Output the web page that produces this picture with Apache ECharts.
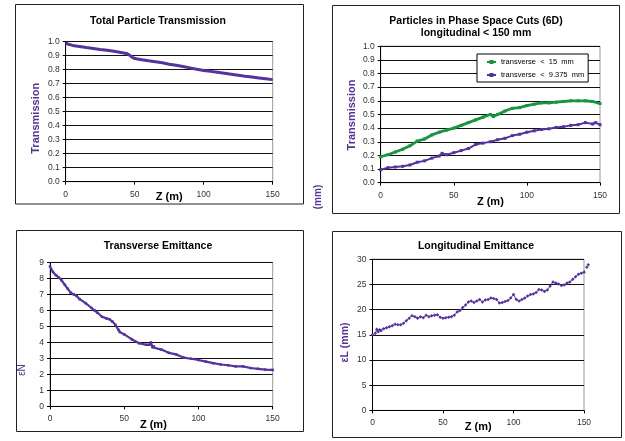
<!DOCTYPE html>
<html><head><meta charset="utf-8">
<script src="https://cdn.jsdelivr.net/npm/echarts@6/dist/echarts.min.js"></script>
<style>html,body{margin:0;padding:0;background:#fff}#c{width:625px;height:441px}</style>
</head><body><div id="c"></div>
<script>
// ---- data ----
const titles = ['Total Particle Transmission', 'Particles in Phase Space Cuts (6D)\nlongitudinal < 150 mm', 'Transverse Emittance', 'Longitudinal Emittance'];
const legendNames = ['transverse < 15 mm', 'transverse < 9.375 mm'];
const xTicks = [0, 50, 100, 150];

const zTotal = [0,2,5,10,15,20,25,30,35,40,44,46,48,50,55,60,65,70,75,80,85,90,95,100,105,110,115,120,125,130,135,140,145,150];
const transTotal = [0.99,0.98,0.972,0.965,0.957,0.95,0.943,0.937,0.93,0.922,0.915,0.905,0.888,0.878,0.87,0.862,0.855,0.848,0.838,0.83,0.822,0.812,0.802,0.793,0.787,0.78,0.773,0.766,0.759,0.752,0.746,0.74,0.734,0.728];

const zCut15 = [0,5,10,15,20,25,30,35,40,45,50,55,60,65,70,75,77,80,85,90,95,100,105,110,115,120,125,130,135,140,145,150];
const cut15 = [0.19,0.205,0.225,0.245,0.27,0.305,0.32,0.35,0.37,0.385,0.40,0.42,0.44,0.46,0.48,0.50,0.485,0.50,0.525,0.545,0.55,0.565,0.575,0.585,0.585,0.59,0.595,0.60,0.60,0.60,0.595,0.58];

const zCut9 = [0,5,10,15,20,25,30,35,40,42,45,50,55,60,65,70,75,80,85,90,95,100,105,110,115,120,125,130,135,140,145,147,150];
const cut9 = [0.095,0.11,0.115,0.12,0.13,0.15,0.16,0.18,0.195,0.215,0.205,0.22,0.235,0.25,0.28,0.29,0.30,0.315,0.325,0.345,0.355,0.37,0.38,0.39,0.395,0.405,0.41,0.42,0.425,0.44,0.43,0.44,0.425];

const zEmitT = [0,2,4,6,8,10,12,14,16,18,20,24,28,30,32,35,38,40,42,44,46,47,50,55,60,65,67,68,69,70,75,80,85,90,95,100,105,110,115,120,125,130,135,140,145,150];
const emitT = [8.75,8.4,8.2,8.05,7.85,7.6,7.35,7.1,7.0,6.9,6.7,6.45,6.15,6.0,5.85,5.6,5.5,5.45,5.3,5.1,4.8,4.65,4.5,4.2,3.95,3.85,3.85,4.0,3.7,3.75,3.55,3.35,3.25,3.05,2.98,2.9,2.8,2.7,2.62,2.57,2.5,2.5,2.4,2.35,2.3,2.28];

const zEmitL = [0,2,3,4,5,6,8,10,12,14,16,18,20,22,24,26,28,30,32,34,36,38,40,42,44,46,48,50,52,54,56,58,60,62,64,66,68,70,72,74,76,78,80,82,84,86,88,90,92,94,96,98,100,102,104,106,108,110,112,114,116,118,120,122,124,126,128,130,132,134,136,138,140,142,144,146,148,150,152,153];
const emitL = [15.0,15.3,16.1,15.6,16.0,15.8,16.2,16.4,16.6,16.8,17.1,17.0,17.0,17.3,17.8,18.3,18.8,18.6,18.3,18.6,18.4,18.9,18.6,18.8,18.9,19.0,18.5,18.3,18.4,18.5,18.6,18.9,19.5,19.8,20.4,20.9,21.5,21.7,21.4,21.7,22.0,21.5,21.9,22.0,22.3,22.2,22.0,21.3,21.4,21.6,21.8,22.3,23.0,22.0,21.7,22.0,22.3,22.7,23.0,23.1,23.4,24.0,23.9,23.6,23.9,24.7,25.5,25.3,25.1,24.8,24.9,25.3,25.5,26.0,26.5,27.0,27.2,27.4,28.4,28.9];

// ---- styles ----
const PURPLE = '#55339e';
const GREEN = '#17963f';
const FONT = 'Liberation Sans, Arial, sans-serif';
const pair = (xs, ys) => xs.map((x, i) => [x, ys[i]]);

const grids = [
  {left: 65.7, top: 41.5, width: 207, height: 140.2},
  {left: 380.7, top: 46.2, width: 219.3, height: 136.5},
  {left: 50, top: 262.4, width: 222.7, height: 144},
  {left: 372.5, top: 259.2, width: 211.5, height: 151.2}
];
const yCfg = [
  {max: 1, interval: 0.1, fmt: v => v.toFixed(1)},
  {max: 1, interval: 0.1, fmt: v => v.toFixed(1)},
  {max: 9, interval: 1, fmt: v => String(v)},
  {max: 30, interval: 5, fmt: v => String(v)}
];
const xNamePad = [[0,0,0,0],[0,0,0,0],[0,16,0,0],[0,0,0,0]];
const xNameGap = [10, 14, 13, 11];

const option = {
  animation: false,
  textStyle: {fontFamily: FONT},
  grid: grids.map(g => Object.assign({show: true, borderColor: '#999', borderWidth: 1, containLabel: false}, g)),
  xAxis: grids.map((g, i) => ({
    type: 'value', gridIndex: i, min: 0, max: 150, interval: 50,
    name: 'Z (m)', nameLocation: 'middle', nameGap: xNameGap[i], nameMoveOverlap: false,
    nameTextStyle: {fontSize: 11, fontWeight: 'bold', color: '#000', fontFamily: FONT, padding: xNamePad[i]},
    axisLine: {show: true, onZero: false, lineStyle: {color: '#000', width: 1}},
    axisTick: {show: true, length: 3, lineStyle: {color: '#000'}},
    axisLabel: {fontSize: 8.5, color: '#333', margin: 8, fontFamily: FONT},
    splitLine: {show: false}
  })),
  yAxis: yCfg.map((c, i) => ({
    type: 'value', gridIndex: i, min: 0, max: c.max, interval: c.interval,
    axisLine: {show: true, lineStyle: {color: '#000', width: 1}},
    axisTick: {show: true, length: 3, lineStyle: {color: '#000'}},
    axisLabel: {fontSize: 8.5, color: '#333', margin: 6, formatter: c.fmt, fontFamily: FONT},
    splitLine: {show: true, lineStyle: {color: '#111', width: 1}}
  })),
  legend: {
    data: legendNames, orient: 'vertical', left: 477, top: 54,
    backgroundColor: '#fff', borderColor: '#000', borderWidth: 1,
    padding: [4, 4, 3, 9], itemGap: 5, itemWidth: 9, itemHeight: 5,
    formatter: n => n.replace(/ /g, '  '),
    textStyle: {fontSize: 7.5, color: '#000', fontFamily: FONT}
  },
  series: [
    {type: 'line', xAxisIndex: 0, yAxisIndex: 0, data: pair(zTotal, transTotal), showSymbol: false,
     lineStyle: {color: PURPLE, width: 3}, itemStyle: {color: PURPLE}},
    {type: 'line', name: legendNames[0], xAxisIndex: 1, yAxisIndex: 1, data: pair(zCut15, cut15),
     symbol: 'rect', symbolSize: 3, lineStyle: {color: GREEN, width: 2.8}, itemStyle: {color: GREEN}},
    {type: 'line', name: legendNames[1], xAxisIndex: 1, yAxisIndex: 1, data: pair(zCut9, cut9),
     symbol: 'rect', symbolSize: 3, lineStyle: {color: PURPLE, width: 2}, itemStyle: {color: PURPLE}},
    {type: 'line', xAxisIndex: 2, yAxisIndex: 2, data: pair(zEmitT, emitT),
     symbol: 'rect', symbolSize: 2.5, lineStyle: {color: PURPLE, width: 2.2}, itemStyle: {color: PURPLE}},
    {type: 'line', xAxisIndex: 3, yAxisIndex: 3, data: pair(zEmitL, emitL), clip: false,
     symbol: 'diamond', symbolSize: 3.5, lineStyle: {color: PURPLE, width: 1}, itemStyle: {color: PURPLE}}
  ],
  graphic: [
    {type: 'rect', shape: {x: 15.5, y: 4.5, width: 288, height: 199.5}, style: {fill: 'none', stroke: '#222', lineWidth: 1}, z: -1},
    {type: 'rect', shape: {x: 332.5, y: 5.5, width: 287, height: 208}, style: {fill: 'none', stroke: '#222', lineWidth: 1}, z: -1},
    {type: 'rect', shape: {x: 16.5, y: 230.5, width: 287, height: 201}, style: {fill: 'none', stroke: '#222', lineWidth: 1}, z: -1},
    {type: 'rect', shape: {x: 332.5, y: 231.5, width: 289, height: 206}, style: {fill: 'none', stroke: '#222', lineWidth: 1}, z: -1},
    {type: 'text', x: 158, y: 20.7, style: {text: titles[0], font: 'bold 10.5px ' + FONT, fill: '#000', textAlign: 'center', textVerticalAlign: 'middle'}},
    {type: 'text', x: 476, y: 26.7, style: {text: titles[1], font: 'bold 10.5px ' + FONT, fill: '#000', textAlign: 'center', textVerticalAlign: 'middle', lineHeight: 12}},
    {type: 'text', x: 158, y: 246, style: {text: titles[2], font: 'bold 10.5px ' + FONT, fill: '#000', textAlign: 'center', textVerticalAlign: 'middle'}},
    {type: 'text', x: 476, y: 245.7, style: {text: titles[3], font: 'bold 10.5px ' + FONT, fill: '#000', textAlign: 'center', textVerticalAlign: 'middle'}},
    {type: 'text', x: 36, y: 118.3, rotation: Math.PI / 2, style: {text: 'Transmission', font: 'bold 11px ' + FONT, fill: PURPLE, textAlign: 'center', textVerticalAlign: 'middle'}},
    {type: 'text', x: 351.7, y: 115, rotation: Math.PI / 2, style: {text: 'Transmission', font: 'bold 11px ' + FONT, fill: PURPLE, textAlign: 'center', textVerticalAlign: 'middle'}},
    {type: 'text', x: 318.5, y: 197, rotation: Math.PI / 2, style: {text: '(mm)', font: 'bold 10px ' + FONT, fill: PURPLE, textAlign: 'center', textVerticalAlign: 'middle'}},
    {type: 'text', x: 22, y: 370, rotation: Math.PI / 2, style: {text: 'εN', font: '10px ' + FONT, fill: PURPLE, textAlign: 'center', textVerticalAlign: 'middle'}},
    {type: 'text', x: 345, y: 342.5, rotation: Math.PI / 2, style: {text: 'εL (mm)', font: 'bold 10.5px ' + FONT, fill: PURPLE, textAlign: 'center', textVerticalAlign: 'middle'}}
  ]
};
const chart = echarts.init(document.getElementById('c'), null, {renderer: 'canvas'});
chart.setOption(option);
</script></body></html>
